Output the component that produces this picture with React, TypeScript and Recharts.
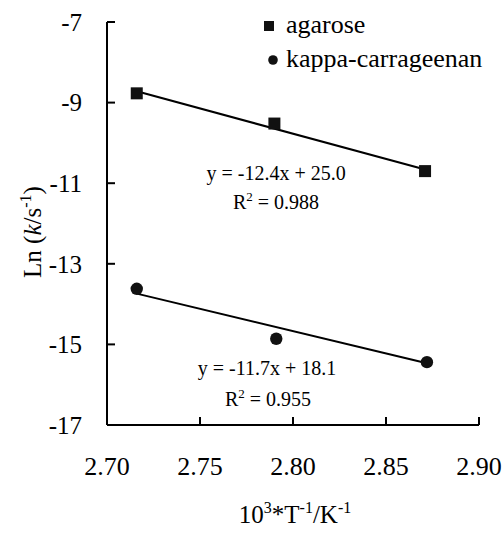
import React from 'react';
import { ScatterChart, Scatter, XAxis, YAxis, Legend, ReferenceDot } from 'recharts';

const FONT = 'Liberation Serif';

const xTicks = [2.7, 2.75, 2.8, 2.85, 2.9];
const yTicks = [-17, -15, -13, -11, -9, -7];

const agarose = [
  { x: 2.716, y: -8.77 },
  { x: 2.79, y: -9.52 },
  { x: 2.871, y: -10.7 },
];
const kappa = [
  { x: 2.716, y: -13.62 },
  { x: 2.791, y: -14.86 },
  { x: 2.872, y: -15.44 },
];
const agaroseFit = [
  { x: 2.716, y: -8.72 },
  { x: 2.871, y: -10.66 },
];
const kappaFit = [
  { x: 2.716, y: -13.74 },
  { x: 2.872, y: -15.47 },
];

const equations = [
  { x: 2.7909, y: -10.93, main: 'y = -12.4x + 25.0', sup: false },
  { x: 2.7909, y: -11.63, main: ' = 0.988', sup: true },
  { x: 2.786, y: -15.77, main: 'y = -11.7x + 18.1', sup: false },
  { x: 2.7866, y: -16.52, main: ' = 0.955', sup: true },
];

const legendItems = [
  { name: 'agarose', shape: 'square' },
  { name: 'kappa-carrageenan', shape: 'circle' },
];

const fontStyle = { fontFamily: FONT };

const SquareShape = (p: any) => (
  <rect x={p.cx - 6} y={p.cy - 6} width={12} height={12} fill="#111" />
);
const CircleShape = (p: any) => <circle cx={p.cx} cy={p.cy} r={6.2} fill="#111" />;
const NoShape = () => <g />;

const LegendContent = () => (
  <svg width={240} height={80} style={{ display: 'block' }}>
    {legendItems.map((it, i) => {
      const cy = 26 + i * 34;
      return (
        <g key={it.name}>
          {it.shape === 'square' ? (
            <rect x={9} y={cy - 5} width={10} height={10} fill="#111" />
          ) : (
            <circle cx={18} cy={cy} r={4.8} fill="#111" />
          )}
          <text x={31} y={cy + 7} style={fontStyle} fontSize={26} fill="#000">
            {it.name}
          </text>
        </g>
      );
    })}
  </svg>
);

const YLabel = () => (
  <text
    transform="translate(41,232) rotate(-90)"
    textAnchor="middle"
    style={fontStyle}
    fontSize={25}
    fill="#000"
  >
    <tspan>Ln (</tspan>
    <tspan fontStyle="italic">k</tspan>
    <tspan>/s</tspan>
    <tspan dy={-10} fontSize={16}>-1</tspan>
    <tspan dy={10}>)</tspan>
  </text>
);

const XLabel = () => (
  <text x={295} y={523} textAnchor="middle" style={fontStyle} fontSize={25} fill="#000">
    <tspan>10</tspan>
    <tspan dy={-10} fontSize={16}>3</tspan>
    <tspan dy={10}>*T</tspan>
    <tspan dy={-10} fontSize={16}>-1</tspan>
    <tspan dy={10}>/K</tspan>
    <tspan dy={-10} fontSize={16}>-1</tspan>
  </text>
);

export default function App() {
  return (
    <div style={{ position: 'absolute', left: 0, top: 0, background: '#fff', fontFamily: FONT }}>
      <ScatterChart
        width={503}
        height={534}
        margin={{ top: 22, right: 24, bottom: 0, left: 0 }}
        style={fontStyle}
      >
        <XAxis
          type="number"
          dataKey="x"
          domain={[2.7, 2.9]}
          ticks={xTicks}
          tickFormatter={(v: number) => v.toFixed(2)}
          height={109}
          axisLine={{ stroke: '#000', strokeWidth: 2 }}
          tickLine={{ stroke: '#000', strokeWidth: 2 }}
          tickSize={-8}
          tickMargin={40}
          tick={{ fill: '#000', fontSize: 26, style: fontStyle }}
          allowDataOverflow
          label={{ content: XLabel }}
        />
        <YAxis
          type="number"
          dataKey="y"
          domain={[-17, -7]}
          ticks={yTicks}
          width={107}
          axisLine={{ stroke: '#000', strokeWidth: 2 }}
          tickLine={{ stroke: '#000', strokeWidth: 2 }}
          tickSize={-8}
          tickMargin={33}
          tick={{ fill: '#000', fontSize: 25, style: fontStyle }}
          allowDataOverflow
          label={{ content: YLabel }}
        />
        <Legend
          layout="vertical"
          align="center"
          verticalAlign="middle"
          wrapperStyle={{ top: 0, left: 255, width: 240, height: 80 }}
          content={LegendContent}
        />
        <Scatter
          name="agarose fit"
          data={agaroseFit}
          line={{ stroke: '#000', strokeWidth: 2 }}
          shape={NoShape}
          legendType="none"
          isAnimationActive={false}
        />
        <Scatter
          name="kappa fit"
          data={kappaFit}
          line={{ stroke: '#000', strokeWidth: 2 }}
          shape={NoShape}
          legendType="none"
          isAnimationActive={false}
        />
        <Scatter name="agarose" data={agarose} shape={SquareShape} isAnimationActive={false} />
        <Scatter name="kappa-carrageenan" data={kappa} shape={CircleShape} isAnimationActive={false} />
        {equations.map((e, i) => (
          <ReferenceDot
            key={i}
            x={e.x}
            y={e.y}
            r={0}
            ifOverflow="visible"
            shape={(p: any) => (
              <text
                x={p.cx}
                y={p.cy}
                textAnchor="middle"
                style={fontStyle}
                fontSize={20}
                fill="#000"
              >
                {e.sup ? (
                  <>
                    <tspan>R</tspan>
                    <tspan dy={-8} fontSize={13}>2</tspan>
                    <tspan dy={8}>{e.main}</tspan>
                  </>
                ) : (
                  e.main
                )}
              </text>
            )}
          />
        ))}
      </ScatterChart>
    </div>
  );
}
